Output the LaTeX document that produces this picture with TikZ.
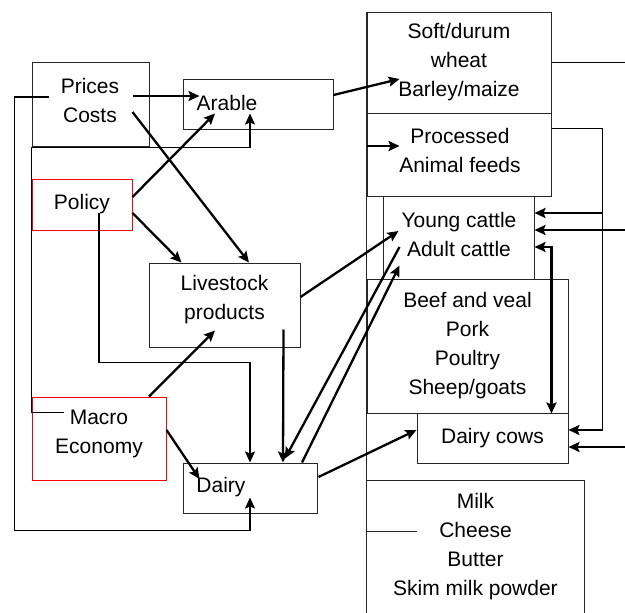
\documentclass[tikz,border=0pt]{standalone}
\usepackage{fontspec}
\setmainfont{Liberation Sans}
\usepackage{tikz}
\usetikzlibrary{calc, arrows.meta}

\begin{document}
\begin{tikzpicture}[>={Stealth[length=11pt,width=10pt,inset=2pt]}, x=1pt, y=-1pt,
  txt/.style={inner sep=0pt, align=center, font=\fontsize{21}{29}\selectfont},
  box/.style={txt, draw=black!85, line width=1pt},
  redbox/.style={box, draw=red},
  flow/.style={->, line width=2.3pt},
  elbow/.style={->, line width=1.7pt}]
  \useasboundingbox (0,0) rectangle (625,613);
  % left column
  \node[box, minimum width=117pt, minimum height=84pt] (prices) at (90.5,104) {};
  \node[txt] (pricestxt) at (90,100) {Prices\\Costs};
  \node[box, minimum width=150pt, minimum height=50pt] (arable) at (258,104) {};
  \node[txt] (arabletxt) at (227,103) {Arable};
  \node[redbox, minimum width=100pt, minimum height=51pt] (policy) at (82,204.5) {Policy};
  \node[box, minimum width=151pt, minimum height=84pt] (livestock) at (224.5,305) {};
  \node[txt] (livestocktxt) at (224.5,300) {Livestock\\products};
  \node[redbox, minimum width=134pt, minimum height=83pt] (macro) at (99,438.5) {};
  \node[txt] (macrotxt) at (99,434) {Macro\\Economy};
  \node[box, minimum width=134pt, minimum height=50pt] (dairy) at (250,488) {};
  \node[txt] (dairytxt) at (221,487) {Dairy};
  % right column
  \node[box, minimum width=184pt, minimum height=101pt] (wheat) at (459,62.5) {Soft/durum\\wheat\\Barley/maize};
  \node[box, minimum width=184pt, minimum height=83pt] (feeds) at (459,154.5) {};
  \node[txt] (feedstxt) at (460,150) {Processed\\Animal feeds};
  \node[box, minimum width=151pt, minimum height=83pt] (cattle) at (458.5,237.5) {};
  \node[txt] (cattletxt) at (459,234) {Young cattle\\Adult cattle};
  \node[box, minimum width=201pt, minimum height=134pt] (meat) at (467.5,346) {Beef and veal\\Pork\\Poultry\\Sheep/goats};
  \node[box, minimum width=151pt, minimum height=50pt] (cows) at (492.5,438) {Dairy cows};
  \node[txt, minimum width=217pt, minimum height=132pt] (milk) at (475.5,547) {Milk\\Cheese\\Butter\\Skim milk powder};
  \draw[black!85, line width=1pt] (milk.south west) |- (milk.north east) -- (milk.south east);
  \draw[black!85, line width=1pt] (wheat.north west) -- (wheat.north west |- milk.south);
  \draw[black!85, line width=1pt] (milk.west |- 0,531) -- ++(50,0);
  % flows on the left
  \draw[flow] ($(prices.east)+(-17,-8)$) -- ($(arabletxt.west)+(3,-7)$);
  \draw[flow] ($(prices.east)+(-17,8)$) -- ($(livestock.north)+(24.5,0)$);
  \draw[flow] ($(policy.east)+(0,-7.5)$) -- ($(arable.south)+(-43,-16)$);
  \draw[flow] ($(policy.east)+(0,8.5)$) -- ($(livestock.north west)+(33,0)$);
  \draw[elbow] ($(policy)+(17,8.5)$) |- ($(dairy.north)+(0,-100)$) -- (dairy.north);
  \draw[elbow] ($(macro.north west)+(32,16)$) -- ($(macro.north west)+(0,16)$)
    |- ($(arable.south)+(-8,18)$) -- ($(arable.south)+(-8,-16)$);
  \draw[elbow] ($(prices.west)+(17,-7)$) -- ($(prices.west)+(-17,-7)$)
    |- ($(dairy.south)+(0,17)$) -- ($(dairy.south)+(0,-16)$);
  \draw[flow] ($(macro.north)+(50,0)$) -- ($(livestock.south)+(-9.5,-17)$);
  \draw[flow] ($(macro.east)+(0,-8.5)$) -- ($(dairy.west)+(17,-9)$);
  % flows to the right column
  \draw[flow] ($(arable.east)+(0,-9)$) -- ($(wheat.west)+(33,16.5)$);
  \draw[flow] ($(livestock.east)+(0,-8)$) -- ($(cattle.west)+(16,-6.5)$);
  \draw[flow] ($(livestock.south east)+(-17,-18)$) -- ($(dairy.north)+(33,0)$);
  \draw[flow] ($(cattle.west)+(17,9.5)$) -- ($(dairy.north)+(35,-4)$);
  \draw[flow] ($(dairy.north)+(52,0)$) -- ($(cattle.south west)+(17,-14)$);
  \draw[flow] ($(dairy.east)+(1,-11)$) -- ($(cows.west)+(0,-8)$);
  \draw[flow] ($(feeds.west)+(0,-8.5)$) -- ($(feeds.west)+(33,-8.5)$);
  % right side links
  \draw[line width=1pt] (wheat.east) -- ++(74,0);
  \draw[elbow] ($(feeds.north east)+(0,16)$) -| ($(cows.east)+(34,-8)$) -- ($(cows.east)+(0,-8)$);
  \draw[flow] ($(cattle.east)+(68,-24.5)$) -- ($(cattle.east)+(0,-24.5)$);
  \draw[flow] ($(cattle.east)+(91,-7.5)$) -- ($(cattle.east)+(0,-7.5)$);
  \draw[flow, <->] ($(cattle.east)+(0,9.5)$) -| ($(meat.south east)+(-17,0)$);
  \draw[flow] ($(cows.east)+(57,9)$) -- ($(cows.east)+(0,9)$);
\end{tikzpicture}
\end{document}
